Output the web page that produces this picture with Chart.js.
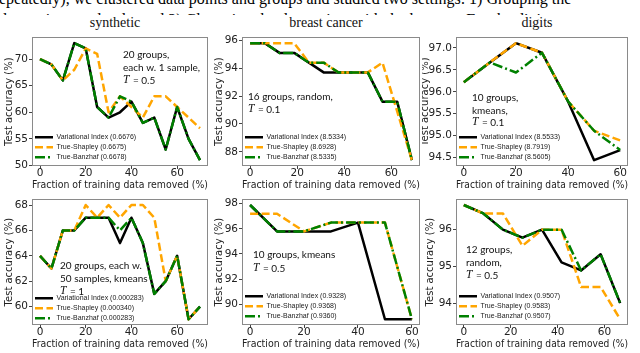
<!DOCTYPE html>
<html><head><meta charset="utf-8">
<script src="https://cdn.jsdelivr.net/npm/chart.js@4.4.1/dist/chart.umd.min.js"></script>
<style>
html,body{margin:0;padding:0;background:#fff;}
body{width:640px;height:353px;position:relative;overflow:hidden;}
.para{position:absolute;left:-1px;white-space:nowrap;font-family:'Liberation Serif',serif;font-size:16px;line-height:18px;color:#000;}
#fig{position:absolute;left:0;top:15px;width:640px;height:338px;background:#fff;}
canvas{position:absolute;}
.ttl{position:absolute;font-family:'Liberation Serif',serif;font-size:14px;line-height:16px;transform:translateX(-50%);white-space:nowrap;color:#111;}
</style></head><body>
<div class="para" style="top:-10px">epeatedly), we clustered data points and groups and studied two settings: 1) Grouping the</div>
<div class="para" style="top:11px">data points randomly, and 2) Clustering the data points with the kmeans. For the digits</div>
<div id="fig"></div>
<div class="ttl" id="t1" style="top:15px">synthetic</div>
<div class="ttl" id="t2" style="top:15px">breast cancer</div>
<div class="ttl" id="t3" style="top:15px">digits</div>
<script>
// ---------------- data ----------------
const seriesNames = ['Variational Index', 'True-Shapley', 'True-Banzhaf'];
const panelTitles = ['synthetic', 'breast cancer', 'digits'];
const xTicks = [0, 20, 40, 60];

// synthetic, 20 groups, each w. 1 sample, T = 0.5
const xSyn1 = [0, 5, 10, 15, 20, 25, 30, 35, 40, 45, 50, 55, 60, 65, 70];
const viSyn1 = [70, 69, 66, 73, 72, 61, 59, 60, 62, 58, 59, 53, 61, 55, 51];
const shSyn1 = [70, 69, 66, 68, 72, 71, 60, 63, 61, 59, 63, 63, 61, 59, 57];
const bzSyn1 = [70, 69, 66, 73, 72, 61, 59, 63, 62, 58, 59, 53, 61, 55, 51];
const legSyn1 = ['0.6676', '0.6675', '0.6678'];
const yTicksSyn1 = ['50', '55', '60', '65', '70'];
const noteSyn1 = ['20 groups,', 'each w. 1 sample,', 'T = 0.5'];

// breast cancer, 16 groups, random, T = 0.1
const xCan1 = [0, 6.25, 12.5, 18.75, 25, 31.25, 37.5, 43.75, 50, 56.25, 62.5, 68.75];
const viCan1 = [95.8, 95.8, 95.1, 95.1, 94.4, 93.7, 93.7, 93.7, 93.7, 91.6, 91.6, 87.4];
const shCan1 = [95.8, 95.8, 95.8, 95.8, 94.4, 94.4, 93.7, 93.7, 93.7, 94.4, 90.9, 87.4];
const bzCan1 = [95.8, 95.8, 95.1, 95.1, 94.4, 94.4, 93.7, 93.7, 93.7, 91.6, 91.6, 87.4];
const legCan1 = ['8.5334', '8.6928', '8.5335'];
const yTicksCan1 = ['88', '90', '92', '94', '96'];
const noteCan1 = ['16 groups, random,', 'T = 0.1'];

// digits, 10 groups, kmeans, T = 0.1
const xDig1 = [0, 10, 20, 30, 40, 50, 60];
const viDig1 = [96.22, 96.67, 97.11, 96.89, 95.78, 94.44, 94.67];
const shDig1 = [96.22, 96.67, 97.11, 96.89, 95.78, 95.11, 94.89];
const bzDig1 = [96.22, 96.67, 96.44, 96.89, 95.78, 95.11, 94.67];
const legDig1 = ['8.5533', '8.7919', '8.5605'];
const yTicksDig1 = ['94.5', '95.0', '95.5', '96.0', '96.5', '97.0'];
const noteDig1 = ['10 groups,', 'kmeans,', 'T = 0.1'];

// synthetic, 20 groups, each w. 50 samples, kmeans, T = 1
const xSyn2 = [0, 5, 10, 15, 20, 25, 30, 35, 40, 45, 50, 55, 60, 65, 70];
const viSyn2 = [64, 63, 66, 66, 67, 67, 67, 65, 67, 65, 61, 62, 64, 59, 60];
const shSyn2 = [64, 63, 66, 66, 68, 67, 68, 67, 68, 68, 67, 62, 64, 59, 60];
const bzSyn2 = [64, 63, 66, 66, 67, 67, 67, 66, 67, 65, 61, 62, 64, 59, 60];
const legSyn2 = ['0.000283', '0.000340', '0.000283'];
const yTicksSyn2 = ['60', '62', '64', '66', '68'];
const noteSyn2 = ['20 groups, each w.', '50 samples, kmeans', 'T = 1'];

// breast cancer, 10 groups, kmeans, T = 0.5
const xCan2 = [0, 10, 20, 30, 40, 50, 60];
const viCan2 = [97.9, 95.8, 95.8, 95.8, 96.5, 88.8, 88.8];
const shCan2 = [97.2, 97.2, 95.8, 96.5, 96.5, 96.5, 88.8];
const bzCan2 = [97.9, 95.8, 95.8, 96.5, 96.5, 96.5, 88.8];
const legCan2 = ['0.9328', '0.9368', '0.9360'];
const yTicksCan2 = ['90', '92', '94', '96', '98'];
const noteCan2 = ['10 groups, kmeans', 'T = 0.5'];

// digits, 12 groups, random, T = 0.5
const xDig2 = [0, 8.33, 16.67, 25, 33.33, 41.67, 50, 58.33, 66.67];
const viDig2 = [96.67, 96.44, 96.0, 95.78, 96.0, 95.11, 94.89, 95.33, 94.0];
const shDig2 = [96.67, 96.44, 96.44, 95.56, 96.0, 96.0, 94.44, 94.44, 93.56];
const bzDig2 = [96.67, 96.44, 96.0, 95.78, 96.0, 96.0, 94.89, 95.33, 94.0];
const legDig2 = ['0.9507', '0.9583', '0.9507'];
const yTicksDig2 = ['94', '95', '96'];
const noteDig2 = ['12 groups,', 'random,', 'T = 0.5'];

// ---------------- rendering ----------------
const AX_FONT = "'DejaVu Sans', sans-serif";
const NOTE_FONT = "10px Lato, 'Open Sans', sans-serif";

const framePlugin = {
  id: 'frame',
  afterDatasetsDraw(chart) {
    const {ctx, chartArea: ca} = chart;
    ctx.save();
    ctx.strokeStyle = '#8a8a8a';
    ctx.lineWidth = 1;
    ctx.strokeRect(Math.round(ca.left) + 0.5, Math.round(ca.top) + 0.5,
                   Math.round(ca.right - ca.left) - 1, Math.round(ca.bottom - ca.top) - 1);
    ctx.restore();
  }
};

const notesPlugin = {
  id: 'notes',
  afterDraw(chart, args, opts) {
    const {ctx, chartArea: ca} = chart;
    ctx.save();
    ctx.textBaseline = 'middle';
    ctx.fillStyle = '#111';
    opts.lines.forEach((ln, i) => {
      const x = ca.left + opts.dx;
      const y = ca.top + opts.dy[i];
      if (/^T = /.test(ln)) {
        ctx.font = "italic 11.5px 'Liberation Serif', serif";
        ctx.fillText('T', x, y);
        const w = ctx.measureText('T').width;
        ctx.font = NOTE_FONT;
        ctx.fillText(ln.slice(1), x + w + 1, y);
      } else {
        ctx.font = NOTE_FONT;
        ctx.fillText(ln, x, y);
      }
    });
    ctx.restore();
  }
};

const legendShift = {
  id: 'legendShift',
  afterLayout(chart, args, opts) {
    const lg = chart.legend;
    const d = opts.dy || 0;
    if (lg) { lg.top += d; lg.bottom += d; }
  }
};

function makePanel(o) {
  const padTop = o.padTop, padRight = 4, xH = 27;
  const W = o.R - o.L + o.yW + padRight;
  const H = padTop + (o.B - o.T) + xH;
  const canvas = document.createElement('canvas');
  canvas.width = W; canvas.height = H;
  canvas.style.left = (o.L - o.yW) + 'px';
  canvas.style.top = (o.T - padTop) + 'px';
  canvas.style.width = W + 'px'; canvas.style.height = H + 'px';
  if (o.bg) canvas.style.background = '#fff';
  document.body.appendChild(canvas);

  const all = o.vi.concat(o.sh, o.bz);
  const ymin = Math.min(...all), ymax = Math.max(...all), yr = ymax - ymin;
  const xmin = Math.min(...o.x), xmax = Math.max(...o.x), xr = xmax - xmin;
  const pts = arr => o.x.map((x, i) => ({x: x, y: arr[i]}));
  const yVals = o.yTicks.map(Number);
  const common = {borderWidth: 2.5, pointRadius: 0, tension: 0, fill: false,
                  borderCapStyle: 'butt', borderJoinStyle: 'round'};

  new Chart(canvas, {
    type: 'line',
    data: {
      datasets: [
        Object.assign({label: seriesNames[2] + ' (' + o.leg[2] + ')', data: pts(o.bz),
                       borderColor: '#008000', borderDash: [10, 3, 2, 3]}, common),
        Object.assign({label: seriesNames[1] + ' (' + o.leg[1] + ')', data: pts(o.sh),
                       borderColor: '#FFA500', borderDash: [8, 3.5]}, common),
        Object.assign({label: seriesNames[0] + ' (' + o.leg[0] + ')', data: pts(o.vi),
                       borderColor: '#000000', borderDash: []}, common)
      ]
    },
    options: {
      responsive: false,
      animation: false,
      events: [],
      layout: {padding: {left: 0, top: padTop, right: padRight, bottom: 0}, autoPadding: false},
      scales: {
        x: {
          type: 'linear',
          min: xmin - 0.05 * xr, max: xmax + 0.05 * xr,
          afterBuildTicks: s => { s.ticks = xTicks.map(v => ({value: v})); },
          afterFit: s => { s.height = xH; },
          ticks: {font: {family: AX_FONT, size: 10.5}, color: '#222', padding: -2,
                  maxRotation: 0, autoSkip: false, callback: v => String(v)},
          grid: {display: true, drawOnChartArea: false, drawTicks: true, tickLength: 3,
                 tickColor: '#444', tickWidth: 1},
          border: {display: false},
          title: {display: true, text: 'Fraction of training data removed (%)',
                  font: {family: AX_FONT, size: 10}, color: '#222', padding: {top: 0, bottom: 2}}
        },
        y: {
          type: 'linear',
          min: ymin - 0.05 * yr, max: ymax + 0.05 * yr,
          afterBuildTicks: s => { s.ticks = yVals.map(v => ({value: v})); },
          afterFit: s => { s.width = o.yW; },
          ticks: {font: {family: AX_FONT, size: 10.5}, color: '#222', padding: 1,
                  autoSkip: false, callback: v => o.yTicks[yVals.indexOf(v)]},
          grid: {display: true, drawOnChartArea: false, drawTicks: true, tickLength: 3,
                 tickColor: '#444', tickWidth: 1},
          border: {display: false},
          title: {display: true, text: 'Test accuracy (%)',
                  font: {family: AX_FONT, size: 10}, color: '#222',
                  padding: {top: o.ytPad, bottom: 0}}
        }
      },
      plugins: {
        legend: {
          position: 'chartArea', align: 'end',
          labels: {
            usePointStyle: true, pointStyle: 'line', pointStyleWidth: 18,
            padding: 3, color: '#222',
            font: {family: "'Liberation Sans', Arial, sans-serif", size: 7},
            generateLabels: chart => {
              const items = Chart.defaults.plugins.legend.labels.generateLabels(chart);
              items.forEach(it => {
                const ds = chart.data.datasets[it.datasetIndex];
                it.lineWidth = ds.borderWidth;
                it.lineDash = ds.borderDash;
                it.strokeStyle = ds.borderColor;
                it.lineCap = 'butt';
                it.pointStyle = 'line';
              });
              return items.reverse();
            }
          }
        },
        tooltip: {enabled: false},
        title: {display: false},
        notes: {lines: o.notes, dx: o.ndx, dy: o.ndy},
        legendShift: {dy: o.lgShift}
      }
    },
    plugins: [framePlugin, notesPlugin, legendShift]
  });
  return o;
}

const panels = [
  {L: 32, R: 208, T: 36, B: 166, yW: 29, ytPad: 0, padTop: 6, lgShift: 5, x: xSyn1, vi: viSyn1, sh: shSyn1, bz: bzSyn1,
   leg: legSyn1, yTicks: yTicksSyn1, notes: noteSyn1, ndx: 91, ndy: [17, 30, 43]},
  {L: 242, R: 420, T: 36, B: 166, yW: 29, ytPad: 0, padTop: 6, lgShift: 5, x: xCan1, vi: viCan1, sh: shCan1, bz: bzCan1,
   leg: legCan1, yTicks: yTicksCan1, notes: noteCan1, ndx: 6, ndy: [59, 72]},
  {L: 456, R: 628, T: 36, B: 166, yW: 34, ytPad: -3, padTop: 6, lgShift: 5, bg: true, x: xDig1, vi: viDig1, sh: shDig1, bz: bzDig1,
   leg: legDig1, yTicks: yTicksDig1, notes: noteDig1, ndx: 16, ndy: [60, 73, 85]},
  {L: 32, R: 208, T: 196, B: 325, yW: 29, ytPad: 0, padTop: 4, lgShift: 7, x: xSyn2, vi: viSyn2, sh: shSyn2, bz: bzSyn2,
   leg: legSyn2, yTicks: yTicksSyn2, notes: noteSyn2, ndx: 28, ndy: [66, 79, 92]},
  {L: 242, R: 420, T: 196, B: 325, yW: 29, ytPad: 0, padTop: 4, lgShift: 5, x: xCan2, vi: viCan2, sh: shCan2, bz: bzCan2,
   leg: legCan2, yTicks: yTicksCan2, notes: noteCan2, ndx: 11, ndy: [55, 69]},
  {L: 456, R: 628, T: 196, B: 325, yW: 32, ytPad: 0, padTop: 4, lgShift: 5, x: xDig2, vi: viDig2, sh: shDig2, bz: bzDig2,
   leg: legDig2, yTicks: yTicksDig2, notes: noteDig2, ndx: 10, ndy: [50, 63, 76]}
];
panels.forEach(makePanel);

// titles over the top-row frames
['t1', 't2', 't3'].forEach((id, i) => {
  const p = panels[i];
  const el = document.getElementById(id);
  el.textContent = panelTitles[i];
  el.style.left = ((p.L + p.R) / 2 - 5) + 'px';
});
</script>
</body></html>
